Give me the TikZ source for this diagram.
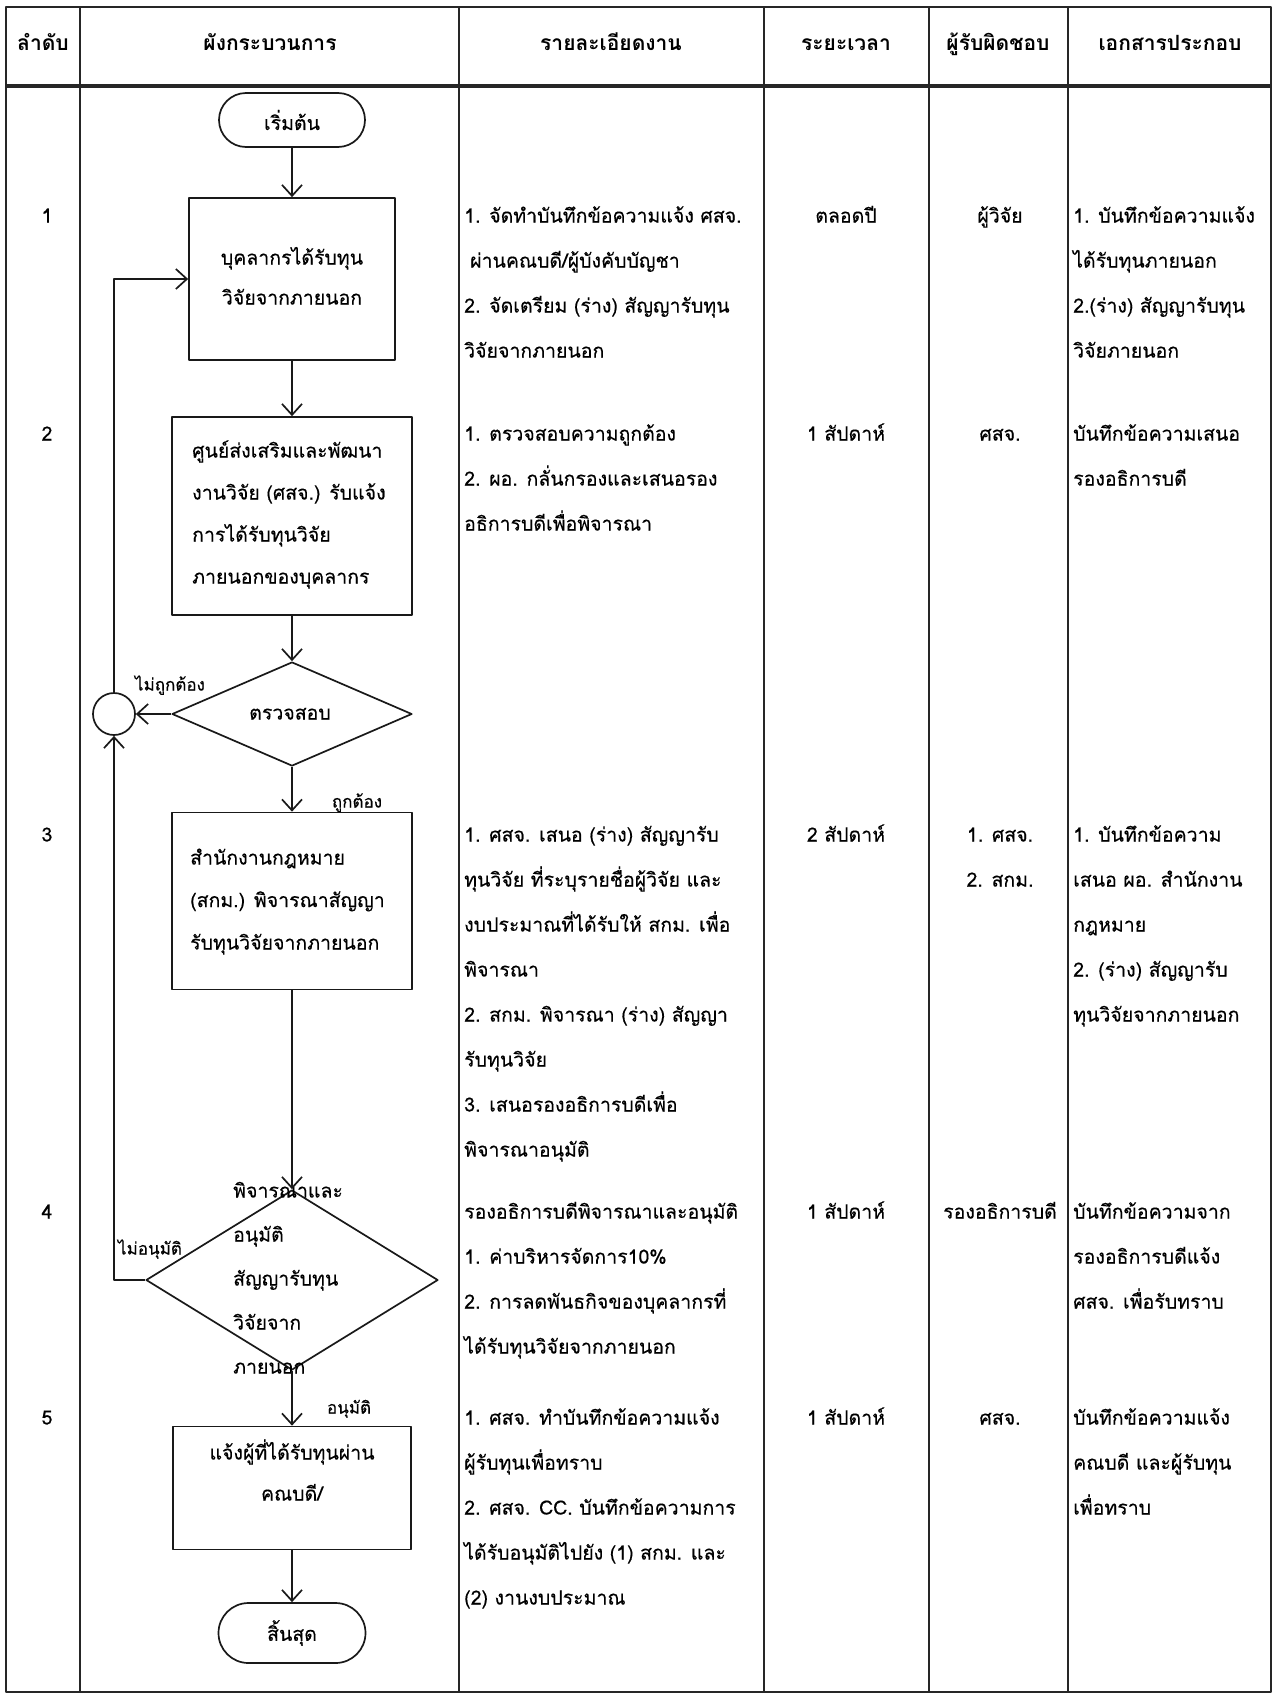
\documentclass[tikz,border=0pt]{standalone}
\usepackage{fontspec}
\setmainfont{Loma}[Script=Thai]
\newfontfamily\bodyfont{Loma}[Script=Thai,FakeBold=0.35]
\usetikzlibrary{arrows.meta,shapes.geometric}
\newcommand\txtlines[6][45]{\foreach \t [count=\i from 0] in {#6}{\node[txt,anchor=#2] (#5-\i) at (#3,{#4+#1*\i}) {\t};}}
\begin{document}
\begin{tikzpicture}[x=1pt,y=-1pt,line join=round,
  tline/.style={line width=2.6pt,draw=black!85},
  arr/.style={line width=1.7pt,draw=black!90,-{Straight Barb[length=11pt,width=20pt,line width=1.7pt]}},
  flowline/.style={line width=1.7pt,draw=black!90},
  box/.style={flowline,rectangle,inner sep=0pt},
  term/.style={flowline,rectangle,inner sep=0pt,font=\bodyfont\fontsize{19.5}{22}\selectfont},
  dia/.style={flowline,diamond,inner sep=0pt},
  junc/.style={flowline,circle,inner sep=0pt,minimum size=42pt},
  txt/.style={inner sep=0pt,text height=13pt,text depth=4pt,font=\bodyfont\fontsize{19.5}{22}\selectfont},
  hdr/.style={txt,font=\fontsize{21}{24}\selectfont\bfseries},
  lbl/.style={txt,font=\bodyfont\fontsize{17}{19}\selectfont},
]
\useasboundingbox (0,0) rectangle (1275,1697);
\fill[white] (0,0) rectangle (1275,1697);
% table
\draw[tline] (6,7) rectangle (1271,1692);
\draw[tline,line width=3.4pt] (6,86) -- (1271,86);
\foreach \x in {80,459,764,929,1068} \draw[tline] (\x,7) -- (\x,1692);
% header
\node[hdr] (h1) at (43,46) {ลำดับ};
\node[hdr] (h2) at (270,46) {ผังกระบวนการ};
\node[hdr] (h3) at (611,46) {รายละเอียดงาน};
\node[hdr] (h4) at (846,46) {ระยะเวลา};
\node[hdr] (h5) at (998,46) {ผู้รับผิดชอบ};
\node[hdr] (h6) at (1170,46) {เอกสารประกอบ};
% row numbers
\node[txt] (n1) at (47,218) {1};
\node[txt] (n2) at (47,436) {2};
\node[txt] (n3) at (47,837) {3};
\node[txt] (n4) at (47,1214) {4};
\node[txt] (n5) at (47,1420) {5};
% flowchart
\node[term,minimum width=146pt,minimum height=54pt,rounded corners=27pt] (start) at (292,120) {เริ่มต้น};
\node[box,minimum width=206pt,minimum height=162pt] (b1) at (292,279) {};
\node[txt] (b1t0) at (292,260) {บุคลากรได้รับทุน};
\node[txt] (b1t1) at (292,300) {วิจัยจากภายนอก};
\node[box,minimum width=240pt,minimum height=198pt] (b2) at (292,516) {};
\txtlines[42]{west}{192}{453}{b2t}{ศูนย์ส่งเสริมและพัฒนา, งานวิจัย (ศสจ.) รับแจ้ง, การได้รับทุนวิจัย, ภายนอกของบุคลากร}
\node[dia,minimum width=240pt,minimum height=104pt] (d1) at (292,714) {};
\node[txt] (d1t) at (290,715) {ตรวจสอบ};
\node[junc] (cj) at (114,714) {};
\node[box,minimum width=240pt,minimum height=177pt] (b3) at (292,901) {};
\txtlines[42.5]{west}{190}{860}{b3t}{สำนักงานกฎหมาย, (สกม.) พิจารณาสัญญา, รับทุนวิจัยจากภายนอก}
\node[dia,minimum width=292pt,minimum height=180pt] (d2) at (292,1280) {};
\txtlines[44]{west}{233}{1193}{d2t}{พิจารณาและ, อนุมัติ, สัญญารับทุน, วิจัยจาก, ภายนอก}
\node[box,minimum width=238pt,minimum height=123pt] (b5) at (292,1488) {};
\node[txt] (b5t0) at (292,1455) {แจ้งผู้ที่ได้รับทุนผ่าน};
\node[txt] (b5t1) at (292,1496) {คณบดี/};
\node[term,minimum width=147pt,minimum height=60pt,rounded corners=30pt] (end) at (292,1633) {สิ้นสุด};
% connectors
\draw[arr] (start) -- (b1);
\draw[arr] (b1) -- (b2);
\draw[arr] (b2) -- (d1);
\draw[arr] (d1) -- (b3);
\draw[arr] (b3) -- (d2);
\draw[arr] (d2) -- (b5);
\draw[arr] (b5) -- (end);
\draw[arr] (d1.west) -- (cj.east);
\draw[arr] (cj.north) |- (b1.west);
\draw[arr] (d2.west) -| (cj.south);
% labels
\node[lbl] (l1) at (170,686) {ไม่ถูกต้อง};
\node[lbl] (l2) at (357,803) {ถูกต้อง};
\node[lbl] (l3) at (150,1250) {ไม่อนุมัติ};
\node[lbl] (l4) at (349,1409) {อนุมัติ};
% details column
\txtlines{west}{464}{218}{r1d}{1. จัดทำบันทึกข้อความแจ้ง ศสจ., \hspace*{6pt}ผ่านคณบดี/ผู้บังคับบัญชา, 2. จัดเตรียม (ร่าง) สัญญารับทุน, วิจัยจากภายนอก}
\txtlines{west}{464}{436}{r2d}{1. ตรวจสอบความถูกต้อง, 2. ผอ. กลั่นกรองและเสนอรอง, อธิการบดีเพื่อพิจารณา}
\txtlines{west}{464}{837}{r3d}{1. ศสจ. เสนอ (ร่าง) สัญญารับ, ทุนวิจัย ที่ระบุรายชื่อผู้วิจัย และ, งบประมาณที่ได้รับให้ สกม. เพื่อ, พิจารณา, 2. สกม. พิจารณา (ร่าง) สัญญา, รับทุนวิจัย, 3. เสนอรองอธิการบดีเพื่อ, พิจารณาอนุมัติ}
\txtlines{west}{464}{1214}{r4d}{รองอธิการบดีพิจารณาและอนุมัติ, 1. ค่าบริหารจัดการ10\%, 2. การลดพันธกิจของบุคลากรที่, ได้รับทุนวิจัยจากภายนอก}
\txtlines{west}{464}{1420}{r5d}{1. ศสจ. ทำบันทึกข้อความแจ้ง, ผู้รับทุนเพื่อทราบ, 2. ศสจ. CC. บันทึกข้อความการ, ได้รับอนุมัติไปยัง (1) สกม. และ, (2) งานงบประมาณ}
% duration
\node[txt] (t1) at (846,218) {ตลอดปี};
\node[txt] (t2) at (846,436) {1 สัปดาห์};
\node[txt] (t3) at (846,837) {2 สัปดาห์};
\node[txt] (t4) at (846,1214) {1 สัปดาห์};
\node[txt] (t5) at (846,1420) {1 สัปดาห์};
% responsible
\node[txt] (p1) at (1000,218) {ผู้วิจัย};
\node[txt] (p2) at (1000,436) {ศสจ.};
\node[txt] (p3a) at (1000,837) {1. ศสจ.};
\node[txt] (p3b) at (1000,882) {2. สกม.};
\node[txt] (p4) at (1000,1214) {รองอธิการบดี};
\node[txt] (p5) at (1000,1420) {ศสจ.};
% documents
\txtlines{west}{1073}{218}{r1e}{1. บันทึกข้อความแจ้ง, ได้รับทุนภายนอก, 2.(ร่าง) สัญญารับทุน, วิจัยภายนอก}
\txtlines{west}{1073}{436}{r2e}{บันทึกข้อความเสนอ, รองอธิการบดี}
\txtlines{west}{1073}{837}{r3e}{1. บันทึกข้อความ, เสนอ ผอ. สำนักงาน, กฎหมาย, 2. (ร่าง) สัญญารับ, ทุนวิจัยจากภายนอก}
\txtlines{west}{1073}{1214}{r4e}{บันทึกข้อความจาก, รองอธิการบดีแจ้ง, ศสจ. เพื่อรับทราบ}
\txtlines{west}{1073}{1420}{r5e}{บันทึกข้อความแจ้ง, คณบดี และผู้รับทุน, เพื่อทราบ}
\end{tikzpicture}
\end{document}
